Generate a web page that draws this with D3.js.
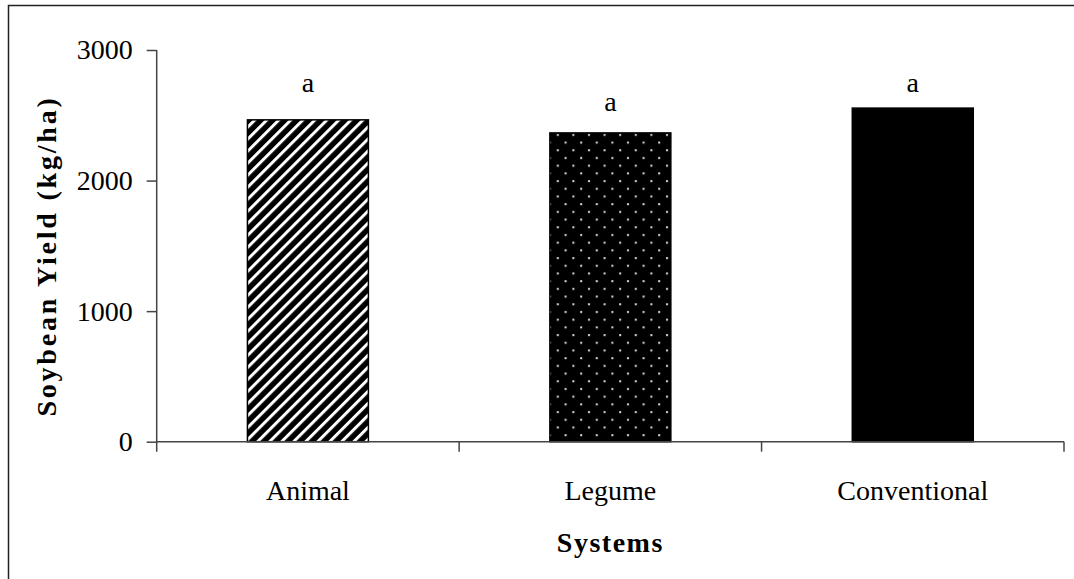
<!DOCTYPE html>
<html>
<head>
    <style>
        body { margin: 0; background: #fff; }
        svg { display: block; }
        text { font-family: "Liberation Serif", "Times New Roman", serif; fill: #000; }
    </style>
</head>
<body>
    <svg width="1074" height="579"></svg>

    <script src="https://d3js.org/d3.v7.min.js"></script>
    <script>
        // Data
        const systems = ["Animal", "Legume", "Conventional"];
        const yieldKgHa = [2465, 2365, 2555];
        const letters = ["a", "a", "a"];
        const letterHeight = [2680, 2535, 2680];   // where each letter sits, in kg/ha
        const yTicks = [0, 1000, 2000, 3000];

        const svg = d3.select("svg");
        const margin = { left: 156.7, right: 1064, top: 50, bottom: 441.7 };
        const fs = 28;

        // outer frame (runs off the right and bottom edge)
        svg.append("rect")
            .attr("x", 8.5).attr("y", 5.5)
            .attr("width", 1200).attr("height", 700)
            .attr("fill", "none")
            .attr("stroke", "#222")
            .attr("stroke-width", 1.5);

        // fill patterns
        const defs = svg.append("defs");

        const stripes = defs.append("pattern")
            .attr("id", "stripes")
            .attr("patternUnits", "userSpaceOnUse")
            .attr("width", 8.5).attr("height", 8.5)
            .attr("patternTransform", "rotate(45)");
        stripes.append("rect").attr("width", 8.5).attr("height", 8.5).attr("fill", "#000");
        stripes.append("rect").attr("x", 0).attr("width", 3).attr("height", 8.5).attr("fill", "#fff");

        const dots = defs.append("pattern")
            .attr("id", "dots")
            .attr("patternUnits", "userSpaceOnUse")
            .attr("width", 15.6).attr("height", 15.4);
        dots.append("rect").attr("width", 15.6).attr("height", 15.4).attr("fill", "#000");
        dots.append("rect").attr("x", 3).attr("y", 3).attr("width", 2).attr("height", 2).attr("fill", "#ddd");
        dots.append("rect").attr("x", 10.8).attr("y", 10.7).attr("width", 2).attr("height", 2).attr("fill", "#ddd");

        const fills = ["url(#stripes)", "url(#dots)", "#000"];

        const x = d3.scaleBand()
            .domain(systems)
            .range([margin.left, margin.right])
            .paddingInner(0.6)
            .paddingOuter(0.3);

        const y = d3.scaleLinear()
            .domain([0, 3000])
            .range([margin.bottom, margin.top]);

        // bars
        svg.append("g")
            .selectAll("rect")
            .data(systems)
            .join("rect")
            .attr("x", d => x(d))
            .attr("y", (d, i) => y(yieldKgHa[i]))
            .attr("width", x.bandwidth())
            .attr("height", (d, i) => y(0) - y(yieldKgHa[i]))
            .attr("fill", (d, i) => fills[i])
            .attr("stroke", "#000")
            .attr("stroke-width", 1.5);

        // significance letters
        svg.append("g")
            .selectAll("text")
            .data(systems)
            .join("text")
            .attr("x", d => x(d) + x.bandwidth() / 2)
            .attr("y", (d, i) => y(letterHeight[i]))
            .attr("text-anchor", "middle")
            .attr("font-size", fs)
            .text((d, i) => letters[i]);

        // y axis
        const yAxis = svg.append("g")
            .attr("transform", `translate(${margin.left},0)`)
            .call(d3.axisLeft(y).tickValues(yTicks).tickFormat(d3.format("d"))
                .tickSize(10).tickSizeOuter(0).tickPadding(14));
        yAxis.select(".domain").attr("stroke", "#444").attr("stroke-width", 1.5)
            .attr("d", `M0,${margin.top}V${margin.bottom + 10}`);
        yAxis.selectAll(".tick line").attr("stroke", "#444").attr("stroke-width", 1.5);
        yAxis.selectAll(".tick text")
            .attr("font-family", "Liberation Serif, serif")
            .attr("font-size", fs)
            .attr("fill", "#000");

        // x axis with ticks at band edges
        const xg = svg.append("g");
        xg.append("line")
            .attr("x1", margin.left).attr("x2", margin.right)
            .attr("y1", y(0)).attr("y2", y(0))
            .attr("stroke", "#444").attr("stroke-width", 1.5);
        const edges = systems.map(d => x(d) - x.step() * x.paddingInner() / 2).concat([margin.right]);
        xg.selectAll(".edge")
            .data(edges.slice(1))
            .join("line")
            .attr("x1", d => d).attr("x2", d => d)
            .attr("y1", y(0)).attr("y2", y(0) + 10)
            .attr("stroke", "#444").attr("stroke-width", 1.5);
        xg.selectAll("text")
            .data(systems)
            .join("text")
            .attr("x", d => x(d) + x.bandwidth() / 2)
            .attr("y", 500)
            .attr("text-anchor", "middle")
            .attr("font-size", fs)
            .text(d => d);

        // axis titles
        svg.append("text")
            .attr("x", (margin.left + margin.right) / 2)
            .attr("y", 552)
            .attr("text-anchor", "middle")
            .attr("font-size", fs)
            .attr("font-weight", "bold")
            .attr("letter-spacing", 1.5)
            .text("Systems");

        svg.append("text")
            .attr("transform", `translate(56,256) rotate(-90)`)
            .attr("text-anchor", "middle")
            .attr("font-size", fs)
            .attr("font-weight", "bold")
            .attr("letter-spacing", 2.8)
            .text("Soybean Yield (kg/ha)");
    </script>
</body>
</html>
